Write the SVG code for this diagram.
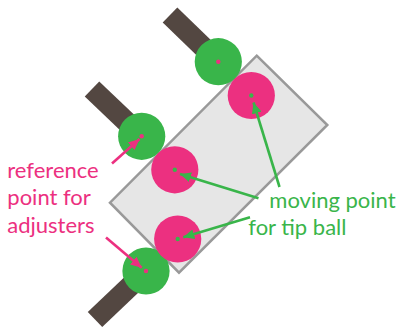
<svg xmlns="http://www.w3.org/2000/svg" width="404" height="328" viewBox="0 0 404 328">
<style>
.rod{stroke:#534741;stroke-width:21;stroke-linecap:butt;fill:none}
.gc{fill:#39b54a}
.pc{fill:#ec3080}
.gdot{fill:#39b54a}
.pdot{fill:#ec3080}
.ga{stroke:#39b54a;stroke-width:2.6;fill:none;marker-end:url(#ah-g)}
.pa{stroke:#ec3080;stroke-width:2.6;fill:none;marker-end:url(#ah-p)}
.lbl{font-family:"Lato","Liberation Sans",sans-serif;font-size:22px}
.pt{fill:#ec3080}
.gt{fill:#39b54a}
</style>
<defs>
<marker id="ah-g" markerUnits="userSpaceOnUse" markerWidth="12" markerHeight="10" refX="11" refY="5" orient="auto">
<path d="M0,0 L11,5 L0,10 Z" fill="#39b54a"/>
</marker>
<marker id="ah-p" markerUnits="userSpaceOnUse" markerWidth="12" markerHeight="10" refX="11" refY="5" orient="auto">
<path d="M0,0 L11,5 L0,10 Z" fill="#ec3080"/>
</marker>
</defs>
<g id="rods">
<line class="rod" x1="218.3" y1="61.7" x2="170" y2="15"/>
<line class="rod" x1="141.7" y1="136.3" x2="92" y2="89"/>
<line class="rod" x1="146" y1="271" x2="95" y2="319.5"/>
</g>
<g id="plate">
<polygon points="256.7,55.7 327.3,125 179,272.7 110,202.7" fill="#e6e6e6" stroke="#999999" stroke-width="2.5"/>
</g>
<g id="adjuster-top">
<circle class="gc" cx="218.3" cy="61.7" r="23.6"/>
<circle class="pdot" cx="218.3" cy="61.7" r="2.2"/>
</g>
<g id="adjuster-mid">
<circle class="gc" cx="141.7" cy="136.3" r="23.6"/>
<circle class="pdot" cx="141.7" cy="136.3" r="2.2"/>
</g>
<g id="adjuster-bottom">
<circle class="gc" cx="146" cy="271" r="23.6"/>
<circle class="pdot" cx="146" cy="271" r="2.2"/>
</g>
<g id="ball-top">
<circle class="pc" cx="251.3" cy="95.5" r="23.6"/>
<circle class="gdot" cx="251.3" cy="95.5" r="2.2"/>
</g>
<g id="ball-mid">
<circle class="pc" cx="174.8" cy="169.8" r="23.6"/>
<circle class="gdot" cx="174.8" cy="169.8" r="2.2"/>
</g>
<g id="ball-bottom">
<circle class="pc" cx="177.7" cy="239" r="23.6"/>
<circle class="gdot" cx="177.7" cy="239" r="2.2"/>
</g>
<g id="connectors">
<line class="ga" x1="279.5" y1="187" x2="253.5" y2="102.5"/>
<line class="ga" x1="258.5" y1="198.3" x2="180" y2="174"/>
<line class="ga" x1="250" y1="217.3" x2="183.3" y2="237.3"/>
<line class="pa" x1="112" y1="163.5" x2="139.5" y2="139"/>
<line class="pa" x1="106" y1="237.5" x2="141.7" y2="267.7"/>
</g>
<g id="label-reference">
<text class="lbl pt" x="7.3" y="178.3">reference</text>
<text class="lbl pt" x="7.3" y="205.3">point for</text>
<text class="lbl pt" x="7.3" y="232.5">adjusters</text>
</g>
<g id="label-moving">
<text class="lbl gt" x="269.3" y="208.3">moving point</text>
<text class="lbl gt" x="248.3" y="235.3">for tip ball</text>
</g>
</svg>
